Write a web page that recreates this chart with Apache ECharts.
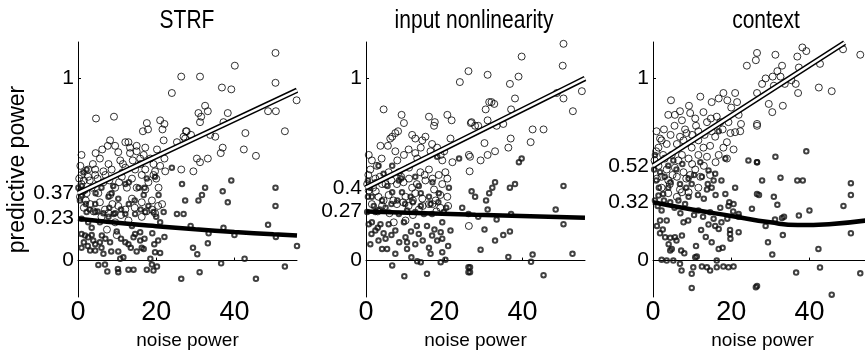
<!DOCTYPE html>
<html>
<head>
<meta charset="utf-8">
<script src="https://cdn.jsdelivr.net/npm/echarts@6/dist/echarts.min.js"></script>
<style>html,body{margin:0;padding:0;background:#fff}#c{width:865px;height:352px}</style>
</head>
<body>
<div id="c"></div>
<script>
// ---------- data ----------
const panelTitles = ['STRF', 'input nonlinearity', 'context'];
const xTicks = [0, 20, 40];
const yTicksStrf = [0, 0.23, 0.37, 1];
const yTicksNonlin = [0, 0.27, 0.4, 1];
const yTicksContext = [0, 0.32, 0.52, 1];

const strfOpen = [[26.4,1.01],[24.0,0.92],[4.6,0.78],[9.2,0.79],[17.6,0.755],[17.9,0.72],[16.6,0.71],[21.0,0.77],[22.1,0.75],[21.6,0.72],[27.6,0.71],[0.9,0.58],[8.2,0.66],[7.6,0.63],[6.2,0.61],[4.5,0.59],[5.6,0.56],[9.5,0.63],[12.1,0.65],[12.9,0.65],[13.3,0.62],[15.0,0.63],[15.0,0.60],[17.2,0.62],[16.8,0.58],[21.9,0.66],[25.3,0.65],[27.0,0.68],[20.2,0.61],[13.3,0.59],[15.9,0.56],[18.5,0.56],[10.3,0.595],[10.8,0.55],[22.1,0.56],[7.8,0.53],[8.6,0.50],[4.4,0.50],[6.5,0.49],[2.6,0.50],[12.1,0.51],[14.6,0.50],[17.2,0.50],[19.3,0.53],[19.7,0.49],[22.3,0.49],[26.4,0.50],[0.9,0.47],[2.6,0.46],[4.4,0.47],[11.2,0.46],[13.8,0.45],[16.3,0.47],[19.3,0.47],[9.5,0.40],[12.5,0.40],[15.0,0.40],[17.2,0.39],[20.6,0.40],[2.2,0.37],[5.2,0.37],[8.2,0.36],[3.1,0.31],[5.6,0.32],[13.8,0.34],[16.3,0.32],[18.9,0.33],[21.5,0.31],[10.3,0.30],[12.1,0.28],[6.9,0.28],[7.8,0.26],[18.9,0.28],[19.7,0.26],[9.5,0.21],[12.9,0.22],[16.3,0.24],[7.4,0.17],[9.9,0.14],[0.9,0.42],[0.5,0.35],[3.5,0.40],[6.5,0.43],
  [0.3,0.45],[0.6,0.52],[1.5,0.44],[1.2,0.38],[3.0,0.44],[3.8,0.53],[5.0,0.45],[7.0,0.47],[8.0,0.44],[10.5,0.43],[11.5,0.53],[14.0,0.55],[16.0,0.53],[18.0,0.43],[20.0,0.45],[21.0,0.52],[2.0,0.33],[4.0,0.27],[6.0,0.24],[11.0,0.25],[14.5,0.29],[17.5,0.27],[20.5,0.30],[8.8,0.31],[1.5,0.29],
  [50.5,1.14],[40.1,1.07],[31.2,1.01],[36.8,0.95],[39.2,0.94],[50.5,0.976],[32.5,0.85],[33.2,0.82],[30.8,0.81],[31.5,0.79],[31.2,0.76],[38.3,0.81],[37.2,0.76],[48.6,0.82],[50.6,0.82],[55.9,0.88],[27.8,0.71],[28.9,0.69],[27.4,0.67],[35.1,0.68],[33.8,0.69],[42.8,0.70],[52.9,0.71],[37.0,0.62],[36.5,0.59],[42.4,0.61],[45.5,0.575],[33.2,0.56],[30.4,0.56],[31.2,0.54],[29.5,0.49]];
const strfDark = [[26.4,-0.10],[5.2,-0.024],[6.9,-0.022],[7.5,-0.06],[10.2,-0.046],[10.3,-0.064],[12.9,-0.05],[14.2,-0.05],[17.6,-0.05],[19.3,-0.055],[20.2,-0.033],[18.9,-0.022],[10.3,0.05],[11.6,0.018],[10.8,0.01],[12.9,0.09],[16.3,0.07],[16.8,0.064],[19.7,0.046],[21.0,0.042],[19.5,0.09],[0.9,0.146],[1.8,0.137],[2.6,0.128],[3.9,0.11],[4.4,0.09],[4.4,0.055],[5.6,0.10],[8.2,0.10],[6.1,0.137],[14.6,0.146],[14.2,0.128],[15.9,0.156],[12.1,0.10],[22.1,0.13],[9.9,0.16],[0.9,0.23],[2.2,0.266],[4.4,0.266],[2.6,0.21],[5.6,0.21],[7.8,0.24],[9.1,0.256],[12.1,0.256],[14.6,0.256],[17.2,0.266],[19.3,0.266],[21.9,0.266],[25.3,0.256],[27.0,0.256],[0.1,0.40],[0.9,0.41],[1.8,0.385],[1.4,0.485],[2.2,0.50],[12.1,0.42],[15.5,0.40],[17.6,0.45],[19.7,0.46],[24.0,0.51],[26.6,0.42],[4.4,0.31],[7.8,0.35],[10.3,0.34],[21.0,0.21],[13.8,0.19],[3.5,0.18],[0.9,0.07],[3.1,0.055],[6.5,0.037],[18.5,0.01],[15.9,0.11],[8.6,0.37],[20.6,0.36],[11.2,0.485],[16.8,0.36],
  [0.5,0.33],[1.0,0.36],[2.0,0.31],[3.0,0.28],[5.0,0.27],[6.5,0.26],[8.0,0.29],[9.5,0.26],[11.0,0.28],[13.0,0.31],[14.5,0.33],[16.0,0.28],[18.0,0.30],[20.0,0.24],[1.5,0.10],[2.5,0.08],[3.5,0.14],[6.0,0.07],[7.0,0.12],[8.5,0.05],[11.0,0.12],[13.5,0.07],[15.0,0.05],[17.0,0.12],[19.0,0.15],[20.5,0.11],[4.5,0.37],[6.0,0.40],[9.0,0.41],[13.0,0.43],[17.0,0.40],
  [39.2,0.44],[32.5,0.40],[31.7,0.36],[30.8,0.33],[27.4,0.33],[37.0,0.38],[38.3,0.32],[50.5,0.40],[50.5,0.30],[48.6,0.196],[28.8,0.19],[37.2,0.18],[33.4,0.15],[40.0,0.14],[50.6,0.13],[29.4,0.07],[30.5,0.035],[33.2,0.095],[56.0,0.08],[42.6,0.01],[36.6,-0.015],[31.1,-0.064],[52.9,-0.033],[45.5,-0.10]];
const strfFitHigh = [[0, 0.37], [56, 0.935]];
const strfFitLow = [[0, 0.23], [10, 0.208], [20, 0.189], [30, 0.172], [40, 0.157], [50, 0.144], [56, 0.137]];

const nonlinOpen = [[26.2,1.04],[24.0,0.98],[4.5,0.83],[9.1,0.80],[9.7,0.755],[8.2,0.71],[7.5,0.70],[6.7,0.68],[6.2,0.67],[16.1,0.79],[17.6,0.76],[17.4,0.74],[20.8,0.80],[21.9,0.77],[26.8,0.755],[11.8,0.69],[12.6,0.67],[14.4,0.66],[15.2,0.68],[16.9,0.64],[18.2,0.62],[21.6,0.67],[3.7,0.63],[5.6,0.63],[0.7,0.58],[1.5,0.55],[2.8,0.52],[1.1,0.50],[7.5,0.60],[9.7,0.58],[10.9,0.61],[12.6,0.59],[13.1,0.56],[16.5,0.60],[19.1,0.58],[19.5,0.55],[22.1,0.54],[26.3,0.58],[26.5,0.49],[5.8,0.485],[8.4,0.485],[11.0,0.51],[13.9,0.485],[16.1,0.50],[18.6,0.47],[20.3,0.485],[2.4,0.45],[4.1,0.42],[7.9,0.42],[9.6,0.43],[11.8,0.40],[15.2,0.44],[17.4,0.39],[19.5,0.42],[20.8,0.45],[0.7,0.385],[3.2,0.35],[5.8,0.36],[10.1,0.35],[12.6,0.37],[14.4,0.34],[17.8,0.33],[20.8,0.35],[1.5,0.31],[4.1,0.30],[7.9,0.31],[10.9,0.30],[13.5,0.28],[16.1,0.31],[19.0,0.29],[7.1,0.21],[10.1,0.22],[26.3,0.19],
  [0.3,0.42],[0.6,0.47],[1.8,0.40],[3.5,0.46],[5.0,0.42],[6.5,0.44],[9.0,0.46],[11.0,0.45],[13.0,0.42],[15.0,0.47],[17.0,0.45],[19.0,0.36],[21.0,0.30],[2.5,0.38],[4.5,0.33],[7.0,0.33],[9.5,0.32],[12.0,0.33],[14.5,0.30],[17.0,0.31],[3.0,0.27],[6.0,0.26],[12.0,0.25],[18.0,0.27],[20.0,0.60],[14.0,0.62],[4.0,0.56],[8.0,0.55],
  [50.5,1.19],[39.8,1.12],[50.3,1.07],[31.1,1.02],[36.8,0.97],[39.0,1.01],[31.5,0.87],[32.1,0.87],[32.8,0.86],[38.1,0.89],[37.1,0.83],[30.6,0.83],[27.0,0.76],[27.9,0.74],[28.7,0.74],[31.1,0.77],[33.4,0.74],[35.1,0.75],[48.8,0.92],[50.5,0.89],[52.9,0.82],[55.2,0.93],[42.6,0.72],[45.4,0.72],[37.0,0.67],[42.1,0.65],[30.3,0.645],[33.0,0.60],[36.4,0.62],[31.1,0.58],[29.3,0.55],[26.6,0.57]];
const nonlinDark = [[26.2,-0.037],[26.2,-0.064],[9.8,-0.086],[15.6,-0.073],[6.7,-0.027],[11.6,0.018],[13.1,-0.004],[14.0,-0.009],[19.1,-0.009],[20.3,0.004],[4.1,0.064],[5.4,0.064],[7.5,0.037],[10.5,0.10],[10.5,0.064],[12.6,0.09],[16.1,0.07],[16.5,0.037],[19.5,0.046],[1.4,0.146],[2.4,0.165],[3.2,0.11],[1.1,0.09],[5.0,0.12],[7.5,0.165],[10.1,0.128],[13.5,0.146],[16.9,0.137],[18.2,0.11],[19.1,0.156],[21.6,0.165],[0.7,0.20],[3.7,0.20],[5.8,0.20],[9.7,0.21],[15.6,0.19],[19.5,0.21],[0.3,0.266],[2.4,0.266],[8.4,0.256],[10.5,0.275],[12.6,0.266],[14.8,0.256],[16.9,0.256],[19.9,0.266],[24.6,0.29],[1.5,0.35],[4.1,0.33],[6.7,0.375],[9.2,0.375],[11.4,0.35],[14.0,0.37],[16.1,0.35],[18.6,0.37],[21.2,0.40],[4.5,0.476],[6.7,0.52],[12.6,0.46],[18.2,0.57],[23.8,0.56],[3.2,0.52],[8.4,0.44],[0.5,0.44],
  [0.5,0.35],[1.0,0.40],[2.0,0.30],[3.5,0.28],[5.0,0.29],[6.5,0.31],[8.0,0.33],[10.0,0.31],[12.0,0.32],[14.0,0.30],[16.5,0.31],[18.5,0.32],[20.5,0.29],[1.5,0.21],[3.0,0.18],[4.5,0.15],[6.5,0.14],[8.5,0.10],[11.5,0.16],[13.0,0.19],[14.5,0.11],[17.5,0.17],[19.5,0.12],[21.0,0.08],[2.5,0.43],[5.5,0.41],[9.0,0.45],[13.5,0.41],[17.0,0.43],
  [39.8,0.56],[39.1,0.54],[50.5,0.41],[33.0,0.43],[32.3,0.40],[31.5,0.37],[30.7,0.33],[31.1,0.28],[38.1,0.42],[36.8,0.40],[27.0,0.38],[27.9,0.35],[48.5,0.28],[26.2,0.256],[28.7,0.24],[33.4,0.225],[37.1,0.256],[50.5,0.20],[30.3,0.17],[33.0,0.11],[35.1,0.14],[36.8,0.16],[29.3,0.06],[36.4,0.02],[42.6,0.033],[42.2,-0.007],[52.8,0.037],[26.6,-0.037],[26.6,-0.064],[45.4,-0.08]];
const nonlinFitHigh = [[0, 0.40], [56, 1.0]];
const nonlinFitLow = [[0, 0.27], [28, 0.252], [56, 0.235]];

const contextOpen = [[26.3,1.10],[24.0,1.07],[4.6,0.88],[9.2,0.85],[12.1,0.90],[18.0,0.92],[16.8,0.89],[15.0,0.87],[21.0,0.92],[21.5,0.87],[6.9,0.82],[7.4,0.77],[5.6,0.80],[3.9,0.80],[9.5,0.81],[10.8,0.78],[12.9,0.815],[13.8,0.76],[16.3,0.79],[17.2,0.76],[19.3,0.76],[21.9,0.80],[0.9,0.71],[8.2,0.72],[8.6,0.70],[6.9,0.68],[11.6,0.71],[15.0,0.71],[15.9,0.68],[21.0,0.705],[22.3,0.71],[2.2,0.66],[3.5,0.64],[1.4,0.62],[6.1,0.64],[9.9,0.62],[11.6,0.66],[12.9,0.62],[14.6,0.63],[18.9,0.65],[20.6,0.61],[26.6,0.75],[2.6,0.58],[4.8,0.58],[7.4,0.58],[9.1,0.56],[11.6,0.58],[13.8,0.57],[16.8,0.58],[18.9,0.56],[1.4,0.52],[3.5,0.50],[5.6,0.51],[7.8,0.485],[10.8,0.50],[2.2,0.46],[3.9,0.44],[6.1,0.46],[9.5,0.47],[12.1,0.46],[14.6,0.47],[2.2,0.40],[4.3,0.42],[6.9,0.39],[9.1,0.375],[11.6,0.40],[3.9,0.37],[6.1,0.35],[7.4,0.375],
  [0.4,0.55],[0.8,0.60],[1.8,0.67],[2.8,0.72],[4.5,0.69],[5.5,0.74],[7.8,0.66],[10.0,0.69],[11.0,0.74],[13.2,0.69],[14.8,0.78],[17.8,0.72],[19.8,0.70],[18.0,0.62],[16.0,0.54],[13.0,0.52],[10.0,0.53],[8.5,0.45],[5.0,0.47],[1.0,0.45],[3.0,0.56],[6.5,0.55],[20.0,0.84],[19.0,0.88],[22.5,0.75],
  [26.6,1.14],[31.3,1.13],[38.2,1.17],[39.2,1.15],[36.9,1.12],[48.6,1.16],[53.0,1.13],[42.7,1.08],[31.8,1.04],[33.0,1.07],[32.6,1.01],[30.6,1.01],[28.8,1.0],[27.9,0.97],[26.6,0.92],[37.3,1.06],[30.9,0.96],[33.7,0.97],[36.5,0.97],[35.4,0.99],[37.1,0.92],[42.4,0.95],[45.7,0.93],[29.6,0.86],[30.5,0.815],[33.2,0.85],[26.6,0.74]];
const contextDark = [[9.9,-0.15],[26.3,-0.147],[7.3,-0.055],[10.3,-0.037],[9.9,-0.073],[12.5,-0.033],[13.8,-0.037],[14.6,-0.055],[16.3,-0.037],[18.0,-0.033],[19.3,-0.037],[20.6,-0.033],[6.9,-0.018],[2.2,0.004],[3.5,0.0],[5.2,0.0],[10.8,0.018],[11.2,0.022],[16.3,0.0],[4.4,0.055],[4.8,0.064],[7.2,0.055],[16.8,0.064],[1.8,0.15],[3.1,0.128],[4.4,0.125],[5.6,0.128],[7.4,0.137],[12.3,0.168],[14.2,0.198],[15.9,0.19],[16.8,0.174],[19.7,0.168],[19.7,0.146],[21.9,0.156],[2.2,0.275],[3.5,0.22],[1.8,0.22],[7.8,0.21],[11.6,0.275],[14.6,0.265],[17.2,0.29],[19.3,0.30],[20.6,0.31],[21.9,0.256],[21.9,0.24],[25.3,0.284],[26.6,0.366],[26.6,0.54],[24.4,0.55],[1.4,0.357],[2.6,0.366],[4.4,0.32],[6.5,0.33],[8.2,0.31],[9.1,0.35],[3.9,0.40],[6.9,0.42],[9.9,0.42],[12.5,0.46],[13.8,0.39],[15.0,0.40],[15.5,0.44],[18.5,0.366],[21.0,0.40],[12.1,0.54],[0.5,0.58],[1.8,0.485],[3.9,0.52],[5.2,0.55],[14.2,0.495],[15.9,0.476],[18.5,0.56],[16.8,0.71],[9.1,0.45],[0.5,0.33],
  [0.3,0.50],[0.8,0.44],[1.5,0.40],[3.0,0.46],[4.5,0.43],[6.0,0.50],[7.5,0.53],[8.5,0.40],[10.5,0.47],[11.5,0.36],[13.0,0.34],[14.0,0.42],[16.0,0.36],[17.5,0.44],[19.5,0.32],[20.5,0.27],[1.2,0.30],[2.8,0.33],[5.5,0.29],[7.0,0.26],[9.0,0.22],[10.5,0.25],[12.8,0.24],[15.5,0.23],[17.5,0.21],[19.0,0.23],[1.0,0.19],[2.5,0.17],[4.0,0.09],[6.0,0.11],[8.0,0.04],[11.0,0.08],[13.5,0.13],[15.0,0.10],[17.8,0.07],[19.8,0.12],
  [39.2,0.60],[31.3,0.57],[26.6,0.54],[27.9,0.44],[32.6,0.455],[36.9,0.44],[38.3,0.44],[50.6,0.425],[27.1,0.36],[30.9,0.35],[31.8,0.306],[50.6,0.36],[48.7,0.30],[40.0,0.275],[37.3,0.247],[33.5,0.24],[33.0,0.234],[31.2,0.225],[28.8,0.19],[50.6,0.15],[33.2,0.14],[29.4,0.10],[42.3,0.064],[30.5,0.033],[42.7,-0.038],[36.6,-0.066],[53.0,-0.07],[26.6,-0.14],[45.7,-0.187]];
const contextFitHigh = [[0, 0.52], [49, 1.196]];
const contextFitLow = [[0, 0.32], [10, 0.28], [20, 0.245], [30, 0.21], [37, 0.195], [45, 0.2], [56, 0.225]];

// ---------- chart ----------
const FONT = "'Liberation Sans', Arial, Helvetica, sans-serif";
const panels = [
  {open: strfOpen, dark: strfDark, hi: strfFitHigh, lo: strfFitLow, yt: yTicksStrf, left: 78},
  {open: nonlinOpen, dark: nonlinDark, hi: nonlinFitHigh, lo: nonlinFitLow, yt: yTicksNonlin, left: 366},
  {open: contextOpen, dark: contextDark, hi: contextFitHigh, lo: contextFitLow, yt: yTicksContext, left: 653}
];
const titleCenters = [187, 474, 766];
const GW = 219, GT = 42, GH = 255;

const grid = [], xAxis = [], yAxis = [], series = [], graphic = [];
panels.forEach((p, i) => {
  grid.push({left: p.left, top: GT, width: GW, height: GH, containLabel: false, outerBoundsMode: 'none'});
  xAxis.push({
    gridIndex: i, type: 'value', min: 0, max: 56,
    axisLine: {show: true, lineStyle: {color: '#000', width: 1}},
    axisTick: {show: true, inside: true, length: 3, customValues: xTicks, lineStyle: {color: '#000'}},
    axisLabel: {customValues: xTicks, fontSize: 27, fontFamily: FONT, color: '#000', margin: 2},
    splitLine: {show: false},
    name: 'noise power', nameLocation: 'middle', nameGap: 30,
    nameTextStyle: {fontSize: 19, fontFamily: FONT, color: '#000'}
  });
  const ya = {
    gridIndex: i, type: 'value', min: -0.2, max: 1.2,
    axisLine: {show: true, lineStyle: {color: '#000', width: 1}},
    axisTick: {show: true, inside: true, length: 3, customValues: p.yt, lineStyle: {color: '#000'}},
    axisLabel: {customValues: p.yt, fontSize: 21, fontFamily: FONT, color: '#000', margin: 4},
    splitLine: {show: false}
  };
  if (i === 0) {
    ya.name = 'predictive power'; ya.nameLocation = 'middle'; ya.nameGap = 48; ya.nameRotate = 90;
    ya.nameTextStyle = {fontSize: 23, fontFamily: FONT, color: '#000'};
  }
  yAxis.push(ya);
  series.push({type: 'scatter', xAxisIndex: i, yAxisIndex: i, data: p.open, symbol: 'circle', symbolSize: 7,
    itemStyle: {color: 'rgba(0,0,0,0)', borderColor: '#000', borderWidth: 1}, z: 2, silent: true});
  series.push({type: 'scatter', xAxisIndex: i, yAxisIndex: i, data: p.dark, symbol: 'circle', symbolSize: 4.5,
    itemStyle: {color: 'rgba(0,0,0,0)', borderColor: '#111', borderWidth: 2}, z: 2, silent: true});
  series.push({type: 'line', xAxisIndex: i, yAxisIndex: i, data: p.hi, showSymbol: false, symbol: 'none',
    lineStyle: {color: '#000', width: 5.5}, z: 3, silent: true});
  series.push({type: 'line', xAxisIndex: i, yAxisIndex: i, data: p.hi, showSymbol: false, symbol: 'none',
    lineStyle: {color: '#fff', width: 2.5}, z: 4, silent: true});
  series.push({type: 'line', xAxisIndex: i, yAxisIndex: i, data: p.lo, showSymbol: false, symbol: 'none', smooth: true,
    lineStyle: {color: '#000', width: 4.5}, z: 5, silent: true});
  graphic.push({type: 'text', x: titleCenters[i], y: 21, scaleY: 1.2, silent: true,
    style: {text: panelTitles[i], align: 'center', verticalAlign: 'middle', fontSize: 21, fontFamily: FONT, fill: '#000'}});
});

const chart = echarts.init(document.getElementById('c'), null, {renderer: 'canvas'});
chart.setOption({animation: false, backgroundColor: '#fff', grid, xAxis, yAxis, series, graphic});
</script>
</body>
</html>
